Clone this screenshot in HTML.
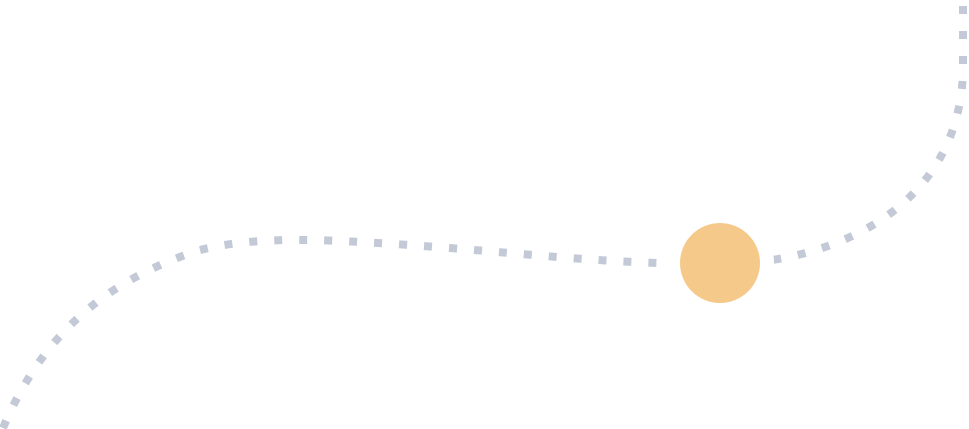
<!DOCTYPE html>
<html><head><style>html,body{margin:0;padding:0;background:#fff;}svg{display:block}</style></head>
<body>
<svg width="969" height="429" viewBox="0 0 969 429">
<path d="M3,428 C40,340 100,282 200,250 C260,235 330,239 450,248 C560,257 620,264 720,264 C830,264 960,210 963,70 L963,0" fill="none" stroke="#c3c9d6" stroke-width="8" stroke-dasharray="8 17"/>
<circle cx="720" cy="263" r="40" fill="#f5c98a" stroke="#fff" stroke-width="28"/>
<circle cx="720" cy="263" r="40" fill="#f5c98a"/>
</svg>
</body></html>
